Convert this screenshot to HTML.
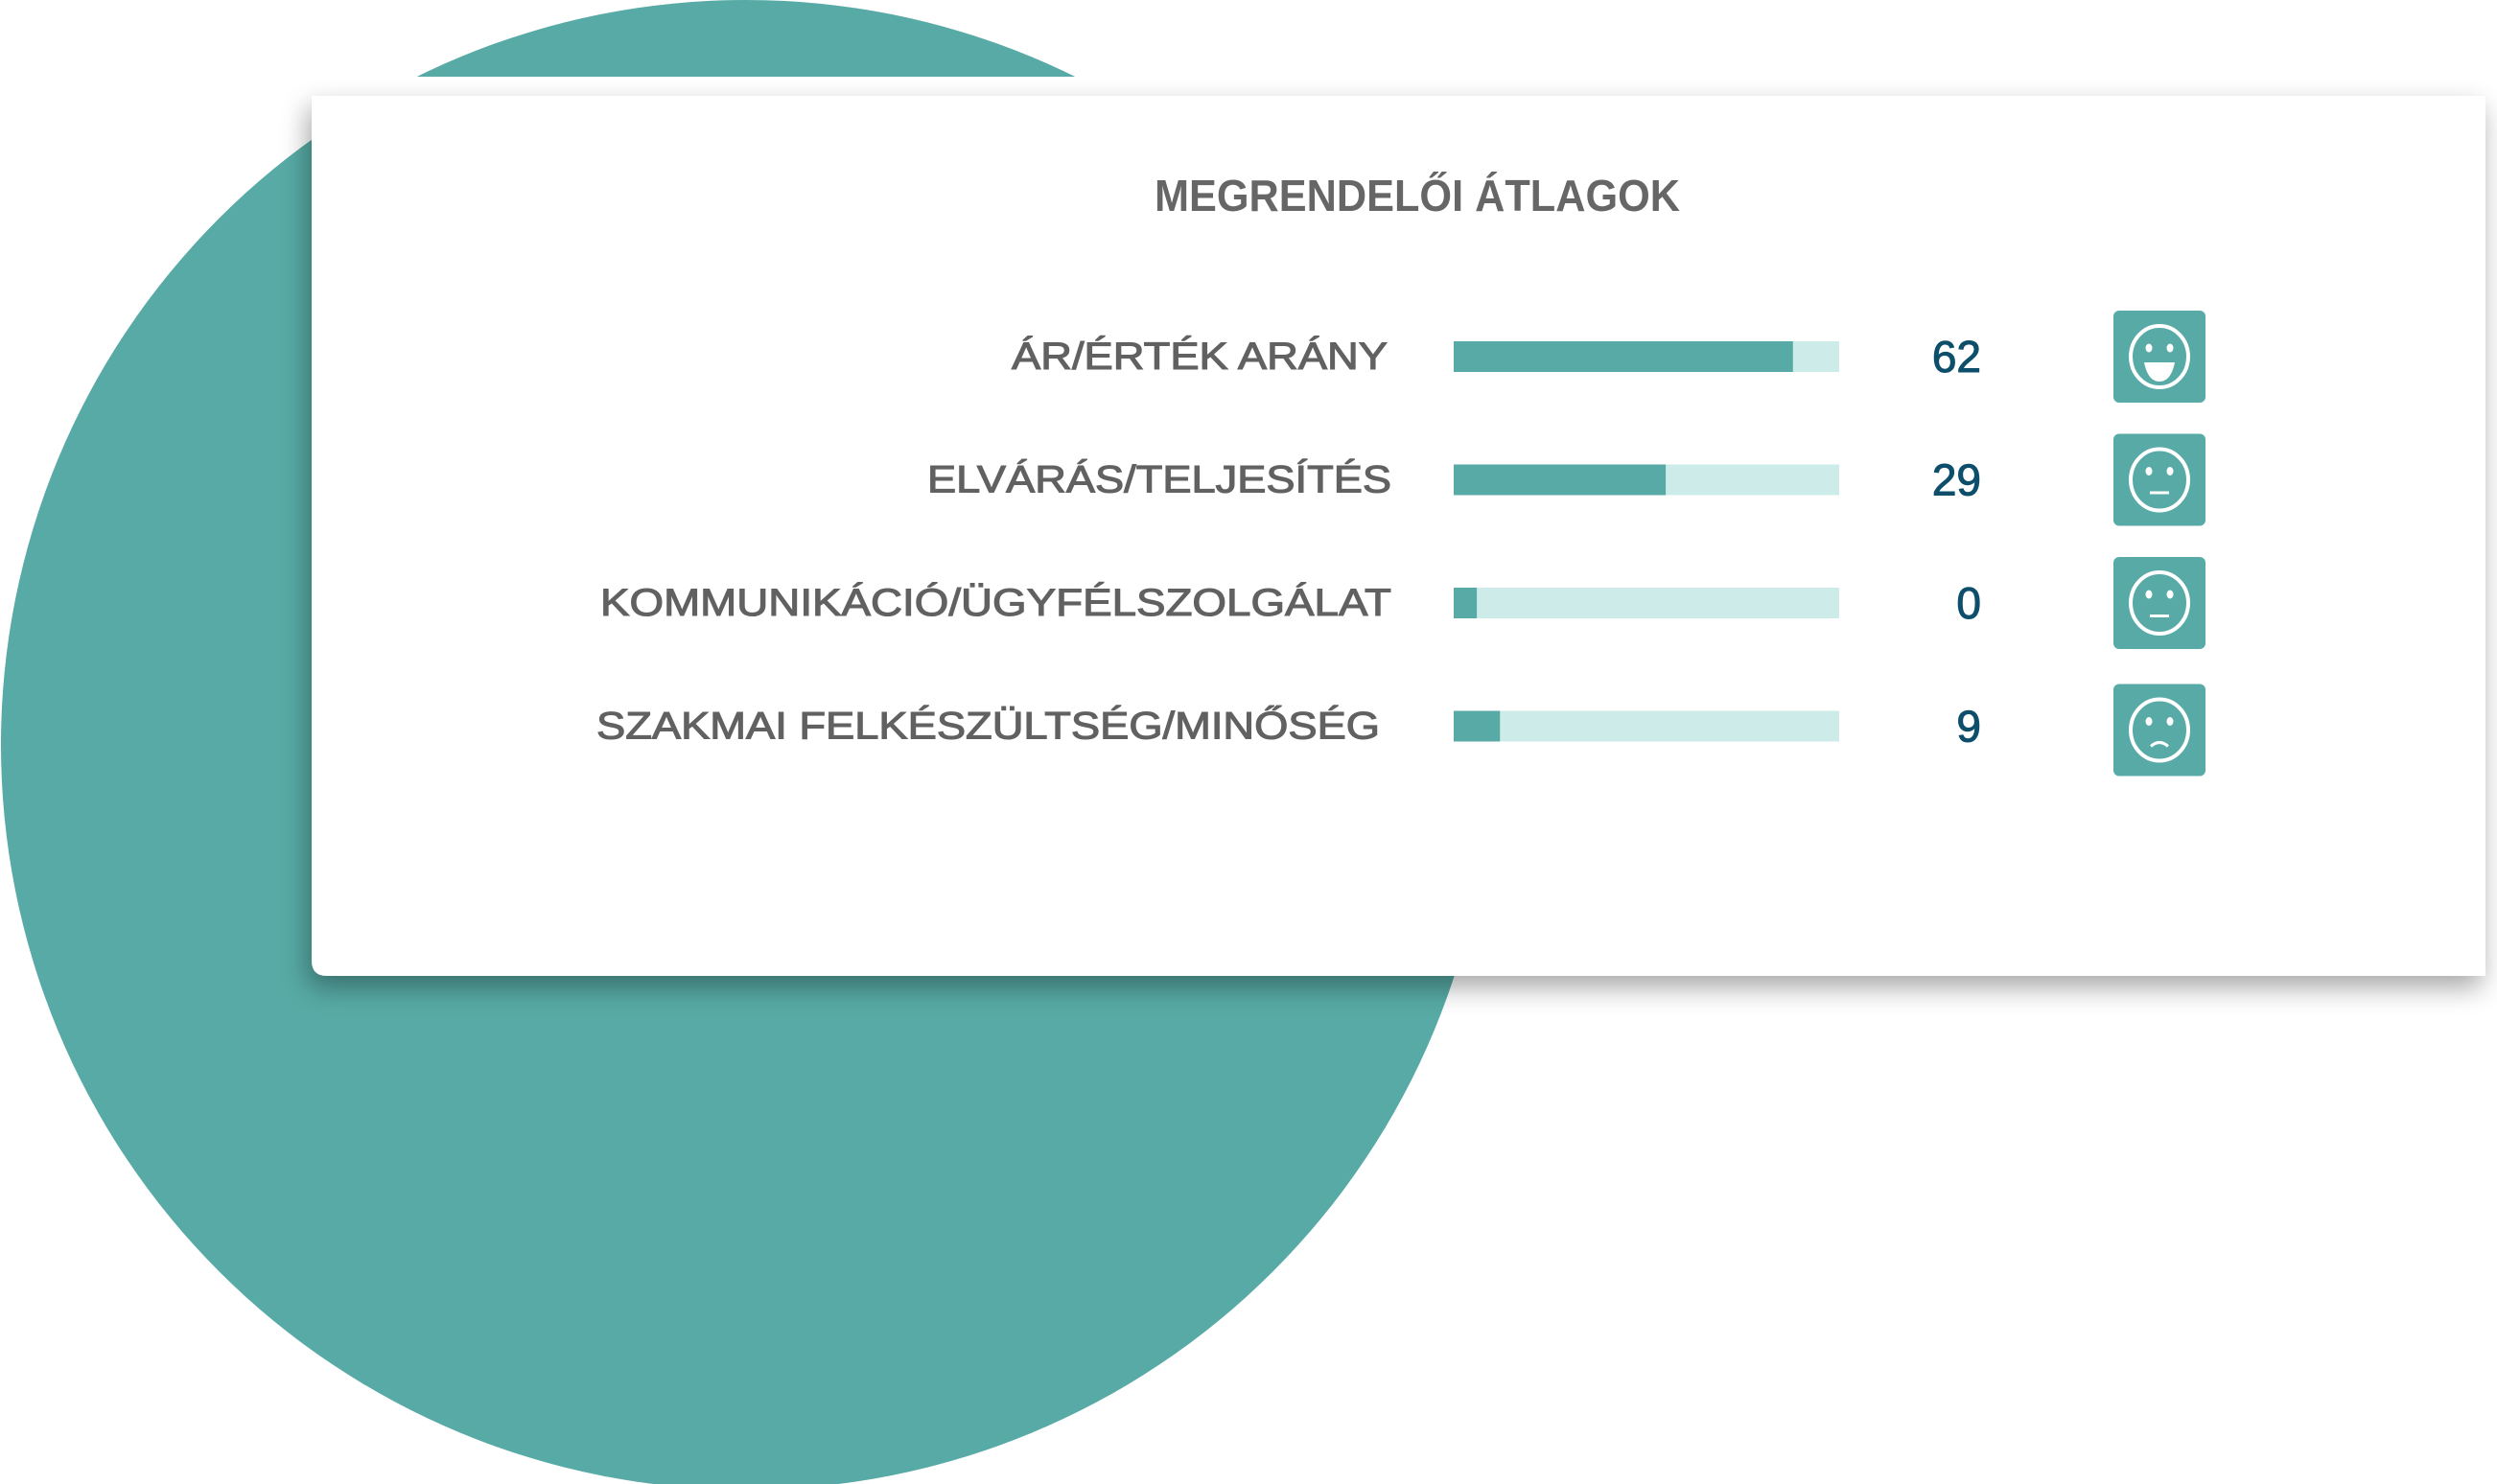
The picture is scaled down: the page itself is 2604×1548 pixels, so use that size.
<!DOCTYPE html>
<html><head><meta charset="utf-8">
<style>
html,body{margin:0;padding:0;background:#fff;}
svg{display:block;}
</style></head>
<body>
<svg id="chart" width="2604" height="1548" viewBox="0 0 2604 1548" xmlns="http://www.w3.org/2000/svg">
  <defs>
    <filter id="sh" x="-5%" y="-10%" width="115%" height="125%">
      <feGaussianBlur in="SourceAlpha" stdDeviation="14"/>
      <feOffset dx="-4" dy="12" result="b"/>
      <feComponentTransfer><feFuncA type="linear" slope="0.35"/></feComponentTransfer>
      <feMerge><feMergeNode/><feMergeNode in="SourceGraphic"/></feMerge>
    </filter>
  </defs>
  <circle cx="778" cy="777" r="777" fill="#57aaa5"/>
  <rect x="0" y="80" width="2604" height="22" fill="#fff"/>
  <path d="M325 100 H2592 V1018 H341 Q325 1018 325 1002 Z" fill="#fff" filter="url(#sh)"/>
  <text x="1478" y="220" text-anchor="middle" font-family="Liberation Sans, sans-serif" font-weight="bold" font-size="46" fill="#666" textLength="548" lengthAdjust="spacingAndGlyphs">MEGRENDELŐI ÁTLAGOK</text>
  <g id="rows"></g>
</svg>
<script>
const categories = ["ÁR/ÉRTÉK ARÁNY","ELVÁRÁS/TELJESÍTÉS","KOMMUNIKÁCIÓ/ÜGYFÉLSZOLGÁLAT","SZAKMAI FELKÉSZÜLTSÉG/MINŐSÉG"];
const values = [62, 29, 0, 9];
const fillPercent = [88, 55, 6, 12];
const moods = ["happy","neutral","neutral","sad"];

const NS = "http://www.w3.org/2000/svg";
const g = document.getElementById("rows");
const labelWidths = [392, 484, 825, 817];
const labelRight = [1451, 1455, 1455, 1443];
const rowTop = (i) => 356 + i * 128.5;
const barX = 1516, barW = 402, barH = 32;
const xScale = (p) => barW * p / 100;
function mk(tag, attrs){ const e=document.createElementNS(NS,tag); for(const k in attrs) e.setAttribute(k, attrs[k]); return e; }

categories.forEach((cat, i) => {
  const y = rowTop(i), cy = y + barH/2;
  const lab = mk("text", {x: labelRight[i] - 4, y: cy + 13, "text-anchor":"end", "font-family":"Liberation Sans, sans-serif", "font-size":"40", fill:"#616161", stroke:"#616161", "stroke-width":"1.1", textLength: labelWidths[i], lengthAdjust:"spacingAndGlyphs"});
  lab.textContent = cat;
  
  
  g.appendChild(lab);
  const track = mk("rect", {x: barX, y: y, width: barW, height: barH, fill:"#cdece9"});
  
  
  g.appendChild(track);
  const bar = mk("rect", {x: barX, y: y, width: xScale(fillPercent[i]), height: barH, fill:"#57aaa5"});
  
  
  g.appendChild(bar);
  const val = mk("text", {x: 2066, y: cy + 16, "text-anchor":"end", "font-family":"Liberation Sans, sans-serif", "font-size":"46", fill:"#0d4f6b", stroke:"#0d4f6b", "stroke-width":"1"});
  val.textContent = values[i];
  
  
  g.appendChild(val);
  const iy = cy - 48 + (i===3 ? 4 : 0);
  const box = mk("rect", {x: 2204, y: iy, width: 96, height: 96, rx: 6, fill:"#57aaa5"});
  
  
  g.appendChild(box);
  const fx = 2252, fy = iy + 48;
  g.appendChild(mk("ellipse", {cx: fx, cy: fy, rx: 30, ry: 32, fill:"none", stroke:"#fff", "stroke-width": 4}));
  g.appendChild(mk("ellipse", {cx: fx-11, cy: fy-9, rx: 3.5, ry: 4.5, fill:"#fff"}));
  g.appendChild(mk("ellipse", {cx: fx+11, cy: fy-9, rx: 3.5, ry: 4.5, fill:"#fff"}));
  if (moods[i] === "happy") {
    g.appendChild(mk("path", {d:`M${fx-16} ${fy+6} H${fx+16} Q${fx+12} ${fy+26} ${fx} ${fy+26} Q${fx-12} ${fy+26} ${fx-16} ${fy+6} Z`, fill:"#fff"}));
  } else if (moods[i] === "neutral") {
    g.appendChild(mk("rect", {x: fx-10, y: fy+12, width: 20, height: 3, fill:"#fff"}));
  } else {
    g.appendChild(mk("path", {d:`M${fx-9} ${fy+17} Q${fx} ${fy+9} ${fx+9} ${fy+17}`, fill:"none", stroke:"#fff", "stroke-width": 3}));
  }
});
</script>
</body></html>
